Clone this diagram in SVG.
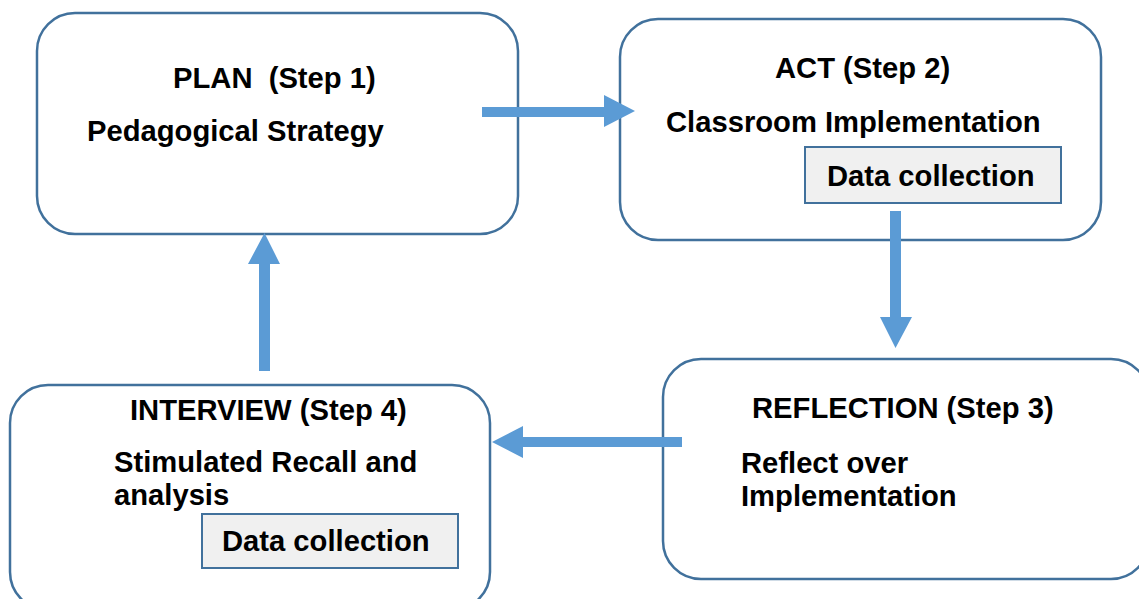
<svg xmlns="http://www.w3.org/2000/svg" width="1139" height="599" viewBox="0 0 1139 599">
<style>
.box{fill:#ffffff;stroke:#41719c;stroke-width:2.5}
.dc{fill:#f0f0f0;stroke:#41719c;stroke-width:2}
.t{font-family:"Liberation Sans",Arial,sans-serif;font-weight:bold;font-size:29.2px;fill:#000000;white-space:pre}
.arr{fill:#5b9bd5}
</style>
<rect width="1139" height="599" fill="#ffffff"/>
<g id="plan">
<rect class="box" x="37" y="13" width="481" height="221" rx="38"/>
<text class="t" x="173" y="88" xml:space="preserve">PLAN  (Step 1)</text>
<text class="t" x="87" y="141">Pedagogical Strategy</text>
</g>
<g id="act">
<rect class="box" x="620" y="19" width="481" height="221" rx="38"/>
<text class="t" x="775" y="78">ACT (Step 2)</text>
<text class="t" x="666" y="132">Classroom Implementation</text>
<rect class="dc" x="805" y="147" width="256" height="56"/>
<text class="t" x="827" y="186">Data collection</text>
</g>
<g id="reflection">
<rect class="box" x="663" y="359" width="486" height="220" rx="38"/>
<text class="t" x="752" y="418">REFLECTION (Step 3)</text>
<text class="t" x="741" y="473">Reflect over</text>
<text class="t" x="741" y="506">Implementation</text>
</g>
<g id="interview">
<rect class="box" x="10" y="385" width="480" height="225" rx="38"/>
<text class="t" x="130" y="420">INTERVIEW (Step 4)</text>
<text class="t" x="114" y="472">Stimulated Recall and</text>
<text class="t" x="114" y="505">analysis</text>
<rect class="dc" x="202" y="514" width="256" height="54"/>
<text class="t" x="222" y="551">Data collection</text>
</g>
<g id="connectors">
<polygon class="arr" points="482,107 604,107 604,95 635,111 604,127 604,117 482,117"/>
<polygon class="arr" points="890,211 901,211 901,317 912,317 895.5,348 880,317 890,317"/>
<polygon class="arr" points="682,437 523,437 523,426 492,442 523,458 523,447 682,447"/>
<polygon class="arr" points="259,371 259,264 248,264 264.5,233 280,264 270,264 270,371"/>
</g>
</svg>
